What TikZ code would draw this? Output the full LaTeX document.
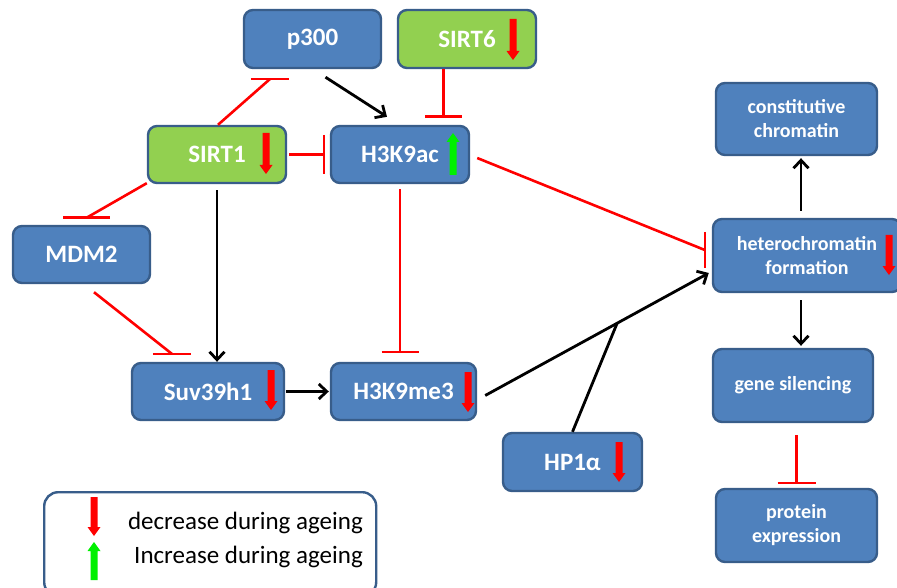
\documentclass[tikz,border=0pt]{standalone}
\usepackage{fontspec}
\setmainfont{Carlito}
\usetikzlibrary{calc,arrows.meta}
\definecolor{boxblue}{HTML}{4F81BD}
\definecolor{boxedge}{HTML}{385D8A}
\definecolor{boxgreen}{HTML}{92D050}
\definecolor{arrred}{HTML}{FF0000}
\definecolor{arrgreen}{HTML}{00F000}
% down arrow: x, ytop, ybottom
\newcommand\decarrow[3]{\fill[arrred] (#1-3.5,#2) -- (#1+3.5,#2) -- (#1+3.5,#3-9) -- (#1+6.5,#3-9) -- (#1,#3) -- (#1-6.5,#3-9) -- (#1-3.5,#3-9) -- cycle;}
% up arrow: x, ytop, ybottom
\newcommand\incarrow[3]{\fill[arrgreen] (#1-3.5,#3) -- (#1+3.5,#3) -- (#1+3.5,#2+9) -- (#1+6.5,#2+9) -- (#1,#2) -- (#1-6.5,#2+9) -- (#1-3.5,#2+9) -- cycle;}
\newcommand\inhbarh[2]{\draw[inh] ($(#1)+(-#2,0)$) -- ($(#1)+(#2,0)$);}
\newcommand\inhbarv[2]{\draw[inh] ($(#1)+(0,-#2)$) -- ($(#1)+(0,#2)$);}
\tikzset{
  box/.style={draw=boxedge, line width=2.4, fill=boxblue, rounded corners=9,
    text=white, font=\bfseries\fontsize{25}{28}\selectfont, align=center, inner sep=0pt},
  gbox/.style={box, fill=boxgreen},
  rbox/.style={box, font=\bfseries\fontsize{20}{24}\selectfont},
  act/.style={draw=black, line width=2.8, -{Straight Barb[length=8pt,width=15pt]}},
  inh/.style={draw=arrred, line width=2.6},
  legtext/.style={font=\fontsize{25}{28}\selectfont, text=black, anchor=east, inner sep=0pt}
}
\begin{document}
\begin{tikzpicture}[x=1pt,y=-1pt]
\useasboundingbox (0,0) rectangle (897,588);
\fill[white] (0,0) rectangle (897,588);
% nodes
\node[box, minimum width=137, minimum height=58] (p300) at (312.5,39) {p300};
\node[gbox, minimum width=138, minimum height=58] (SIRT6) at (467,39) {SIRT6};
\node[gbox, minimum width=138, minimum height=57] (SIRT1) at (217,154.5) {SIRT1};
\node[box, minimum width=138, minimum height=57] (H3K9ac) at (400,154.5) {H3K9ac};
\node[box, minimum width=137, minimum height=57] (MDM2) at (81.5,254.5) {MDM2};
\node[box, minimum width=152, minimum height=57] (Suv39h1) at (208,391.5) {Suv39h1};
\node[box, minimum width=145, minimum height=57] (H3K9me3) at (403.5,391.5) {H3K9me3};
\node[box, minimum width=139, minimum height=58] (HP1) at (572.5,462) {HP1α};
\node[rbox, minimum width=161, minimum height=72] (constitutive) at (796.5,119) {constitutive\\chromatin};
\node[rbox, minimum width=188, minimum height=73] (hetero) at (807,255.5) {heterochromatin\\formation};
\node[rbox, minimum width=160, minimum height=73] (genesil) at (793,385.5) {gene silencing};
\node[rbox, minimum width=161, minimum height=73] (protein) at (796.5,525.5) {protein\\expression};
\node[draw=boxedge, line width=2.4, rounded corners=14, minimum width=332, minimum height=104, anchor=north west, inner sep=0pt] (legend) at (43,491) {};
\node[legtext] (legdec) at (363,523) {decrease during ageing};
\node[legtext] (leginc) at (363,557) {Increase during ageing};
% connectors
% SIRT1 -| p300
\coordinate (b1) at ($(p300.south west)+(27,10)$);
\draw[inh] ($(SIRT1.north)+(1,0)$) -- (b1);
\inhbarh{b1}{19}
% p300 -> H3K9ac
\draw[act] ($(p300.south)+(13,8)$) -- ($(H3K9ac.north)+(-13,-8)$);
% SIRT6 -| H3K9ac
\coordinate (b3) at ($(H3K9ac.north)+(43.5,-8)$);
\draw[inh] (SIRT6.south -| b3) -- (b3);
\inhbarh{b3}{18.5}
% SIRT1 -| H3K9ac
\coordinate (b4) at ($(H3K9ac.west)+(-6,0)$);
\draw[inh] ($(SIRT1.east)+(2,0)$) -- (b4);
\inhbarv{b4}{19.5}
% SIRT1 -| MDM2
\coordinate (b5) at ($(MDM2.north)+(5,-7)$);
\draw[inh] ($(SIRT1.south west)+(0,-1)$) -- (b5);
\inhbarh{b5}{23.5}
% SIRT1 -> Suv39h1
\draw[act] ($(SIRT1.south)+(0,6)$) -- (SIRT1.south |- Suv39h1.north);
% MDM2 -| Suv39h1
\coordinate (b7) at ($(Suv39h1.north west)+(41,-8)$);
\draw[inh] ($(MDM2.south)+(12.5,8)$) -- (b7);
\inhbarh{b7}{19}
% H3K9ac -| H3K9me3
\coordinate (b8) at ($(H3K9ac.south |- H3K9me3.north)+(0,-10)$);
\draw[inh] ($(H3K9ac.south)+(0,5)$) -- (b8);
\inhbarh{b8}{18.5}
% Suv39h1 -> H3K9me3
\draw[act] ($(Suv39h1.east)+(1,0)$) -- ($(H3K9me3.west)+(-1,0)$);
% H3K9me3 -> heterochromatin
\coordinate (s10) at ($(H3K9me3.east)+(8,4)$);
\coordinate (e10) at ($(hetero.west)+(-3,17.5)$);
\draw[act] (s10) -- (e10);
% HP1a joins
\coordinate (j) at ($(s10)!0.59!(e10)$);
\draw[line width=2.8] (HP1.north) -- (j);
% H3K9ac -| heterochromatin
\coordinate (b12) at ($(hetero.west)+(-7,-5.5)$);
\draw[inh] ($(H3K9ac.east)+(7,3.5)$) -- (b12);
\inhbarv{b12}{18}
% heterochromatin -> constitutive
\draw[act] ($(hetero.north)+(-6,-7)$) -- ($(constitutive.south)+(4.5,2)$);
% heterochromatin -> gene silencing
\draw[act] ($(hetero.south)+(-6,7)$) -- ($(genesil.north)+(8,-2)$);
% gene silencing -| protein
\coordinate (b15) at ($(protein.north)+(0,-5)$);
\draw[inh] ($(genesil.south)+(3.5,12)$) -- (b15);
\inhbarh{b15}{19}
% up/down marks
\decarrow{266}{133}{174}
\decarrow{513}{19}{60}
\incarrow{453}{133}{175}
\decarrow{271}{370}{410}
\decarrow{468}{372}{412}
\decarrow{619}{442}{482}
\decarrow{889}{235}{275}
\decarrow{94}{497}{536}
\incarrow{94}{542}{580}
\end{tikzpicture}
\end{document}
